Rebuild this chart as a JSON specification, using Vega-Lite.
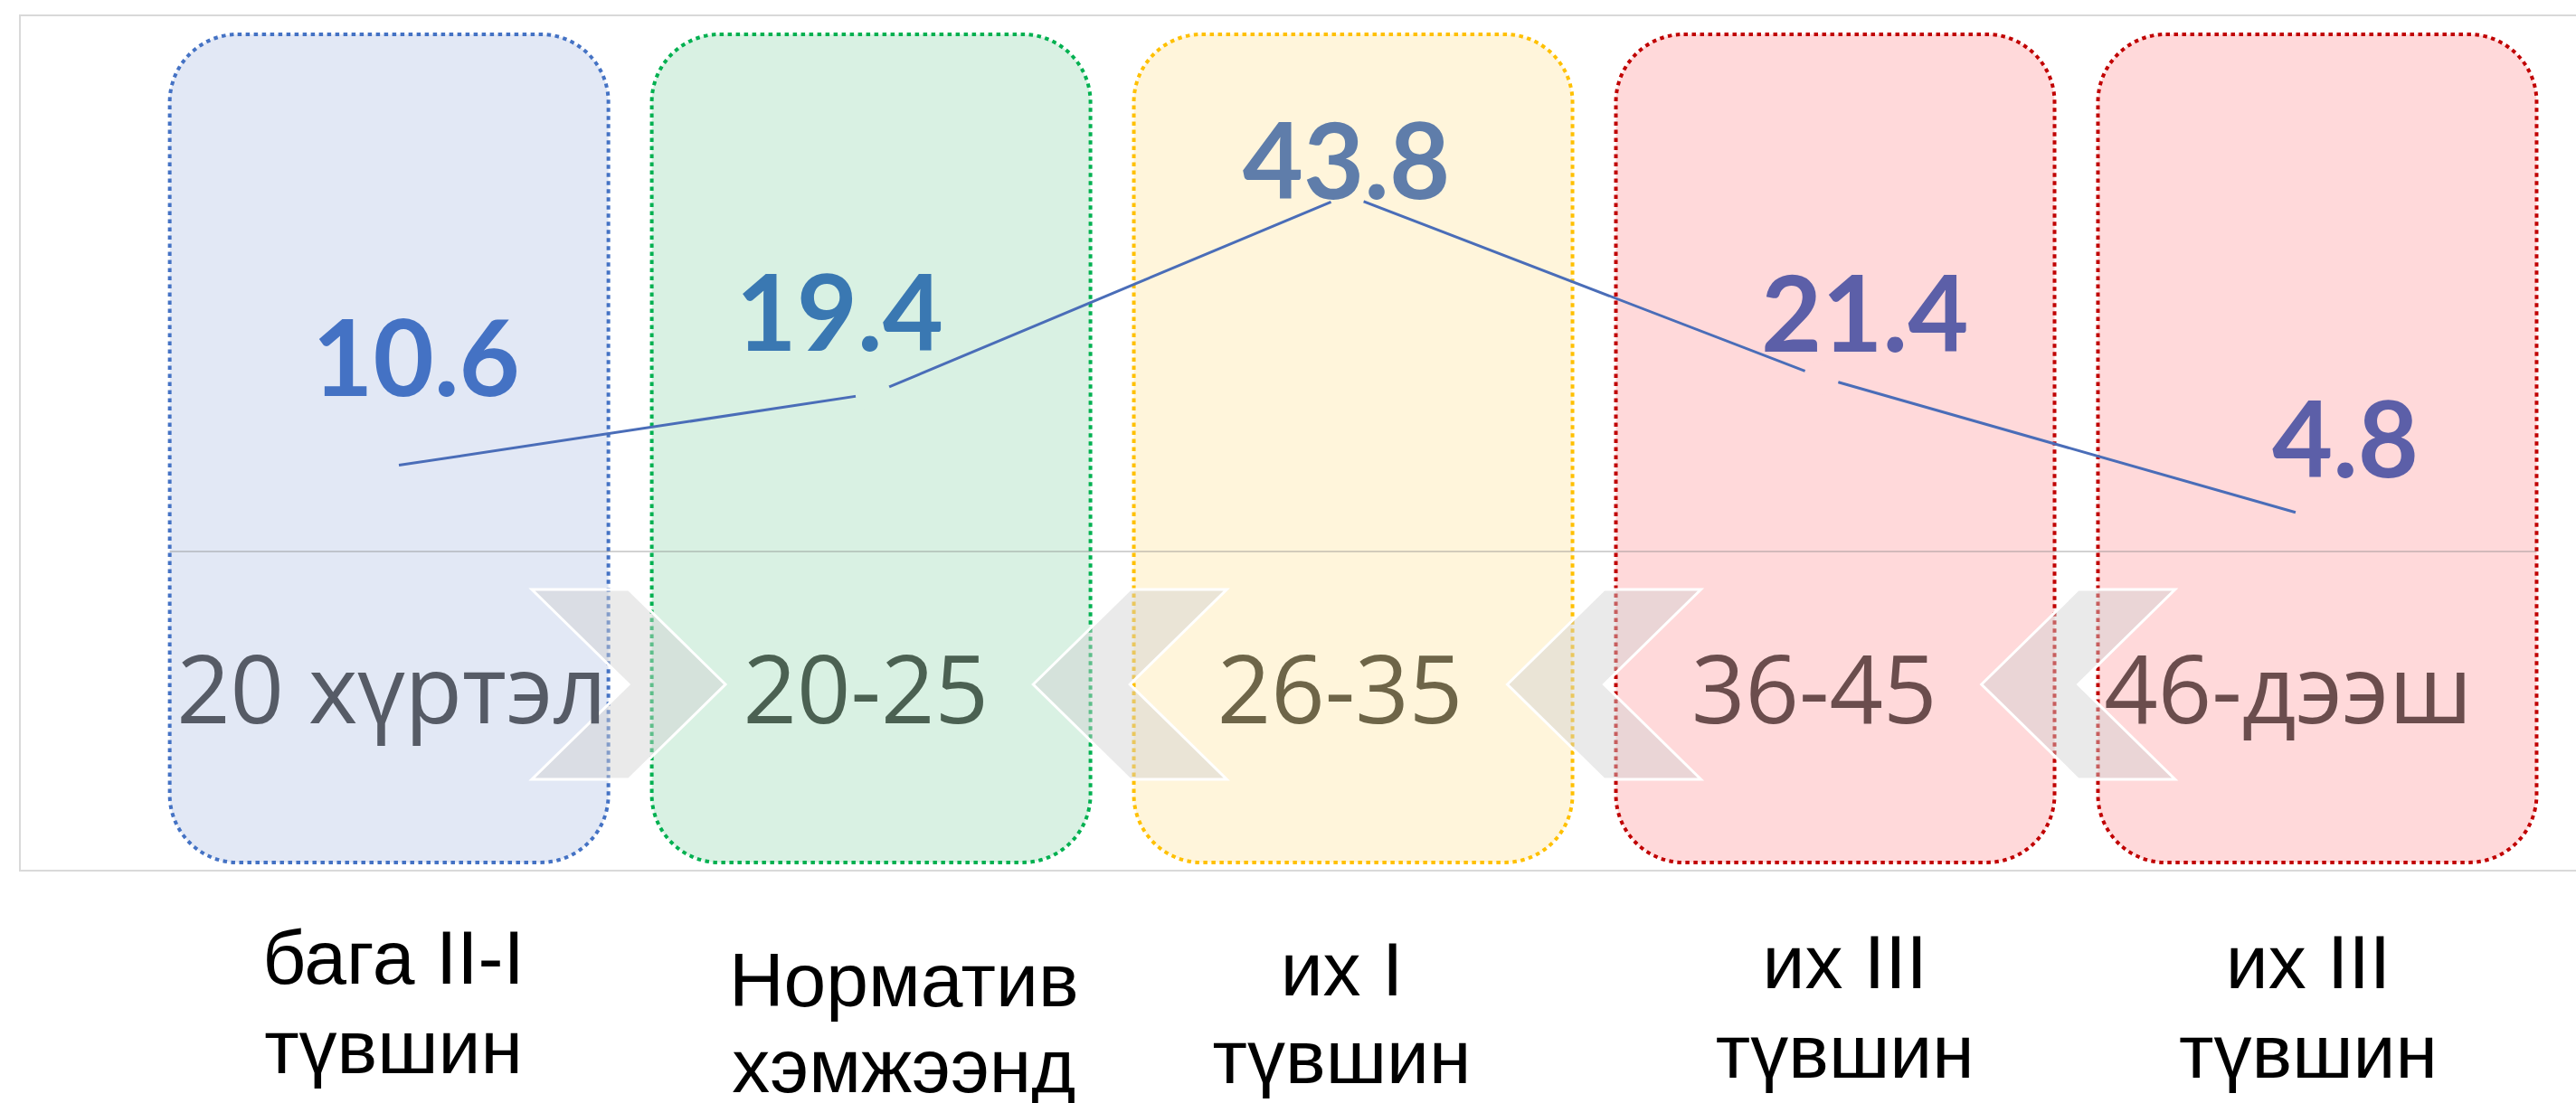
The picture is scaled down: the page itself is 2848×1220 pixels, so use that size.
{
  "$schema": "https://vega.github.io/schema/vega-lite/v6.json",
  "width": 2830,
  "height": 946,
  "autosize": {"type": "none"},
  "padding": {"left": 22, "top": 17, "right": 0, "bottom": 257},
  "background": "white",
  "config": {"view": {"stroke": "#d9d9d9", "strokeWidth": 2}},
  "datasets": {
    "levels": [
      {"range": "20 хүртэл", "level": "бага II-I\nтүвшин", "value": 10.6},
      {"range": "20-25", "level": "Норматив\nхэмжээнд", "value": 19.4},
      {"range": "26-35", "level": "их I\nтүвшин", "value": 43.8},
      {"range": "36-45", "level": "их III\nтүвшин", "value": 21.4},
      {"range": "46-дээш", "level": "их III\nтүвшин", "value": 4.8}
    ],
    "chevrons": [
      {"after": "20 хүртэл", "dir": "right"},
      {"after": "20-25", "dir": "left"},
      {"after": "26-35", "dir": "left"},
      {"after": "36-45", "dir": "left"}
    ]
  },
  "data": {"name": "levels"},
  "resolve": {"scale": {"x": "independent"}},
  "layer": [
    {
      "layer": [
        {
          "mark": {"type": "bar", "cornerRadius": 75, "strokeWidth": 4, "strokeDash": [4.5, 4.5]},
          "encoding": {
            "x": {
              "field": "range", "type": "nominal", "axis": null,
              "scale": {"type": "band", "domain": ["20 хүртэл", "20-25", "26-35", "36-45", "46-дээш"], "paddingInner": 0.09, "paddingOuter": 0.2, "align": 0.777}
            },
            "y": {"datum": 63.56, "type": "quantitative", "axis": null, "scale": {"domain": [-39.222, 65.889], "nice": false, "zero": false}},
            "y2": {"datum": -38.22},
            "fill": {
              "field": "range", "type": "nominal", "legend": null,
              "scale": {"domain": ["20 хүртэл", "20-25", "26-35", "36-45", "46-дээш"], "range": ["#E2E8F5", "#D9F1E3", "#FFF5DB", "#FFD9DA", "#FFD9DA"]}
            },
            "stroke": {
              "field": "range", "type": "nominal", "legend": null,
              "scale": {"domain": ["20 хүртэл", "20-25", "26-35", "36-45", "46-дээш"], "range": ["#4472C4", "#00B050", "#FFC000", "#C00000", "#C00000"]}
            }
          }
        },
        {
          "data": {"values": [{}]},
          "mark": {"type": "rule", "color": "#7f7f7f", "opacity": 0.35, "strokeWidth": 2},
          "encoding": {
            "x": {"datum": "20 хүртэл", "type": "nominal", "bandPosition": 0},
            "x2": {"datum": "46-дээш", "bandPosition": 1},
            "y": {"datum": 0, "type": "quantitative"}
          }
        }
      ]
    },
    {
      "layer": [
        {
          "data": {"name": "chevrons"},
          "mark": {"type": "point", "filled": true, "fill": "#D0D0D0", "fillOpacity": 0.45, "stroke": "white", "strokeWidth": 3, "strokeOpacity": 1, "opacity": 1, "size": 40000},
          "encoding": {
            "x": {
              "field": "after", "type": "nominal", "axis": null,
              "scale": {"type": "band", "domain": ["20 хүртэл", "20-25", "26-35", "36-45", "46-дээш"], "paddingInner": 0.0806, "paddingOuter": 0.2395, "align": 0.709}
            },
            "y": {"datum": 0, "type": "quantitative"},
            "shape": {
              "field": "dir", "type": "nominal", "legend": null,
              "scale": {"domain": ["right", "left"], "range": ["M1.47,0.42L2.54,0.42L3.61,1.47L2.54,2.52L1.47,2.52L2.54,1.47Z", "M1.77,1.47L2.84,0.42L3.91,0.42L2.84,1.47L3.91,2.52L2.84,2.52Z"]}
            }
          }
        },
        {
          "mark": {"type": "text", "font": "Open Sans", "fontSize": 104, "baseline": "alphabetic", "align": "center", "dx": -8, "dy": 190},
          "encoding": {
            "x": {"field": "range", "type": "nominal"},
            "y": {"datum": 0, "type": "quantitative"},
            "text": {"field": "range"},
            "color": {
              "field": "range", "type": "nominal", "legend": null,
              "scale": {"domain": ["20 хүртэл", "20-25", "26-35", "36-45", "46-дээш"], "range": ["#565B66", "#4B6152", "#6E6548", "#6B4D4D", "#6B4D4D"]}
            }
          }
        },
        {
          "mark": {"type": "line", "color": "#4A6DB8", "strokeWidth": 3},
          "encoding": {
            "x": {"field": "range", "type": "nominal"},
            "y": {"field": "value", "type": "quantitative"}
          }
        },
        {
          "transform": [{"filter": "datum.range != '20 хүртэл' && datum.range != '46-дээш'"}],
          "mark": {"type": "point", "shape": "circle", "filled": true, "size": 1520, "opacity": 1, "strokeWidth": 0},
          "encoding": {
            "x": {"field": "range", "type": "nominal"},
            "y": {"field": "value", "type": "quantitative"},
            "fill": {"field": "range", "type": "nominal", "legend": null}
          }
        },
        {
          "transform": [{"filter": "datum.range == '20 хүртэл'"}],
          "layer": [
            {
              "mark": {"type": "text", "font": "Lato", "fontWeight": "bold", "fontSize": 116, "baseline": "alphabetic", "align": "center", "fill": "#4472C4", "dx": 19, "dy": -77},
              "encoding": {"x": {"field": "range", "type": "nominal"}, "y": {"field": "value", "type": "quantitative"}, "text": {"field": "value", "type": "quantitative", "format": ".1f"}}
            },
            {
              "mark": {"type": "text", "font": "Liberation Sans", "fontSize": 84, "baseline": "top", "align": "center", "lineBreak": "\n", "lineHeight": 99, "fill": "#000000", "dx": -6, "dy": 59},
              "encoding": {"x": {"field": "range", "type": "nominal"}, "y": {"datum": -39.222, "type": "quantitative"}, "text": {"field": "level"}}
            }
          ]
        },
        {
          "transform": [{"filter": "datum.range == '20-25'"}],
          "layer": [
            {
              "mark": {"type": "text", "font": "Lato", "fontWeight": "bold", "fontSize": 116, "baseline": "alphabetic", "align": "center", "fill": "#3A78B2", "dx": -37, "dy": -47},
              "encoding": {"x": {"field": "range", "type": "nominal"}, "y": {"field": "value", "type": "quantitative"}, "text": {"field": "value", "type": "quantitative", "format": ".1f"}}
            },
            {
              "mark": {"type": "text", "font": "Liberation Sans", "fontSize": 84, "baseline": "top", "align": "center", "lineBreak": "\n", "lineHeight": 95, "fill": "#000000", "dx": 34, "dy": 84},
              "encoding": {"x": {"field": "range", "type": "nominal"}, "y": {"datum": -39.222, "type": "quantitative"}, "text": {"field": "level"}}
            }
          ]
        },
        {
          "transform": [{"filter": "datum.range == '26-35'"}],
          "layer": [
            {
              "mark": {"type": "text", "font": "Lato", "fontWeight": "bold", "fontSize": 116, "baseline": "alphabetic", "align": "center", "fill": "#5F7DAA", "dx": -1, "dy": 4},
              "encoding": {"x": {"field": "range", "type": "nominal"}, "y": {"field": "value", "type": "quantitative"}, "text": {"field": "value", "type": "quantitative", "format": ".1f"}}
            },
            {
              "mark": {"type": "text", "font": "Liberation Sans", "fontSize": 84, "baseline": "top", "align": "center", "lineBreak": "\n", "lineHeight": 97, "fill": "#000000", "dx": -6, "dy": 72},
              "encoding": {"x": {"field": "range", "type": "nominal"}, "y": {"datum": -39.222, "type": "quantitative"}, "text": {"field": "level"}}
            }
          ]
        },
        {
          "transform": [{"filter": "datum.range == '36-45'"}],
          "layer": [
            {
              "mark": {"type": "text", "font": "Lato", "fontWeight": "bold", "fontSize": 116, "baseline": "alphabetic", "align": "center", "fill": "#5C5FA8", "dx": 48, "dy": -28},
              "encoding": {"x": {"field": "range", "type": "nominal"}, "y": {"field": "value", "type": "quantitative"}, "text": {"field": "value", "type": "quantitative", "format": ".1f"}}
            },
            {
              "mark": {"type": "text", "font": "Liberation Sans", "fontSize": 84, "baseline": "top", "align": "center", "lineBreak": "\n", "lineHeight": 99, "fill": "#000000", "dx": 26, "dy": 64},
              "encoding": {"x": {"field": "range", "type": "nominal"}, "y": {"datum": -39.222, "type": "quantitative"}, "text": {"field": "level"}}
            }
          ]
        },
        {
          "transform": [{"filter": "datum.range == '46-дээш'"}],
          "layer": [
            {
              "mark": {"type": "text", "font": "Lato", "fontWeight": "bold", "fontSize": 116, "baseline": "alphabetic", "align": "center", "fill": "#5C5FA8", "dx": 55, "dy": -39},
              "encoding": {"x": {"field": "range", "type": "nominal"}, "y": {"field": "value", "type": "quantitative"}, "text": {"field": "value", "type": "quantitative", "format": ".1f"}}
            },
            {
              "mark": {"type": "text", "font": "Liberation Sans", "fontSize": 84, "baseline": "top", "align": "center", "lineBreak": "\n", "lineHeight": 99, "fill": "#000000", "dx": 14, "dy": 64},
              "encoding": {"x": {"field": "range", "type": "nominal"}, "y": {"datum": -39.222, "type": "quantitative"}, "text": {"field": "level"}}
            }
          ]
        }
      ]
    }
  ]
}
